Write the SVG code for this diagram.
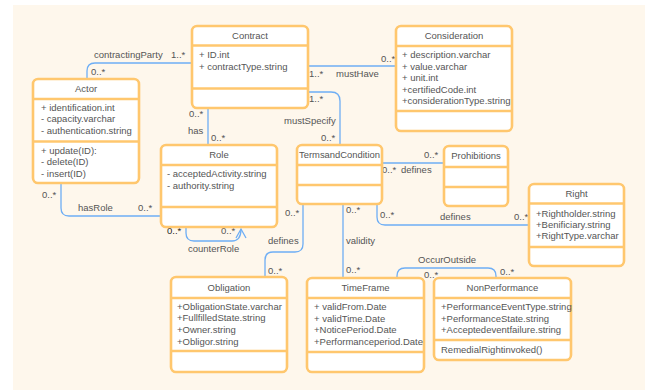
<svg xmlns="http://www.w3.org/2000/svg" width="647" height="390" viewBox="0 0 647 390">
<style>
.box{fill:#ffffff;stroke:#ffc76e;stroke-width:2.6}
.sep{stroke:#ffc76e;stroke-width:2.6}
.t{font-family:"Liberation Sans",Arial,sans-serif;font-size:9.5px;fill:#555555}
.c{text-anchor:middle}
.con{fill:none;stroke:#6eaef5;stroke-width:1.3}
</style>
<defs>
<marker id="open" viewBox="0 0 12 12" refX="10" refY="6" markerWidth="12" markerHeight="12" markerUnits="userSpaceOnUse" orient="auto">
<path d="M1,1 L10,6 L1,11" fill="none" stroke="#6eaef5" stroke-width="1.3"/>
</marker>
</defs>
<rect x="13" y="5" width="632" height="385" fill="#fef7ec"/>
<g id="connectors">
<path class="con" d="M87,79 V71 Q87,63 95,63 H192"/>
<path class="con" d="M208,108 V145"/>
<path class="con" d="M308,66 H396"/>
<path class="con" d="M308,92 H331 Q340,92 340,101 V145"/>
<path class="con" d="M61,183 V208 Q61,216 69,216 H161"/>
<path class="con" d="M186,227 V233 Q186,241 194,241 H232 Q241,241 241,229" marker-end="url(#open)"/>
<path class="con" d="M303,204 V244 Q303,252 295,252 H273 Q265,252 265,260 V277"/>
<path class="con" d="M382,163 H444"/>
<path class="con" d="M377,204 V217 Q377,225 385,225 H529"/>
<path class="con" d="M343,204 V278"/>
<path class="con" d="M397,278 V276 Q397,268 405,268 H488 Q496,268 496,276 V278"/>
<text class="t" x="94" y="57.5">contractingParty</text>
<text class="t" x="171" y="57.5">1..*</text>
<text class="t" x="91" y="75">0..*</text>
<text class="t" x="189" y="116.5">0..*</text>
<text class="t" x="188" y="134">has</text>
<text class="t" x="211" y="140.5">0..*</text>
<text class="t" x="309" y="76.5">1..*</text>
<text class="t" x="336" y="76.5">mustHave</text>
<text class="t" x="381" y="61.5">0..*</text>
<text class="t" x="309" y="101.5">1..*</text>
<text class="t" x="284" y="123.5">mustSpecify</text>
<text class="t" x="321" y="140.5">0..*</text>
<text class="t" x="42" y="197.5">0..*</text>
<text class="t" x="78" y="211">hasRole</text>
<text class="t" x="138" y="211">0..*</text>
<text class="t" x="167" y="234" style="fill:#222222">0..*</text>
<text class="t" x="221" y="234">0..*</text>
<text class="t" x="188" y="252">counterRole</text>
<text class="t" x="285" y="216">0..*</text>
<text class="t" x="268" y="243.5">defines</text>
<text class="t" x="268" y="274">0..*</text>
<text class="t" x="382" y="172.5">0..*</text>
<text class="t" x="401" y="172.5">defines</text>
<text class="t" x="424" y="157.5">0..*</text>
<text class="t" x="380" y="218">0..*</text>
<text class="t" x="440" y="219.5">defines</text>
<text class="t" x="514" y="219.5">0..*</text>
<text class="t" x="346" y="212.5">0..*</text>
<text class="t" x="346" y="243.5">validity</text>
<text class="t" x="346" y="272.5">0..*</text>
<text class="t" x="418" y="262.5">OccurOutside</text>
<text class="t" x="424" y="277.5">0..*</text>
<text class="t" x="500" y="274.5">0..*</text>
</g>
<g id="Contract">
<rect class="box" x="192" y="26" width="116" height="82" rx="5"/>
<line class="sep" x1="192" y1="45.5" x2="308" y2="45.5"/>
<line class="sep" x1="192" y1="88.5" x2="308" y2="88.5"/>
<text class="t c" x="250" y="38.5">Contract</text>
<text class="t" x="199" y="57.5">+ ID.int</text>
<text class="t" x="199" y="69.5">+ contractType.string</text>
</g>
<g id="Consideration">
<rect class="box" x="396" y="26" width="116" height="105" rx="5"/>
<line class="sep" x1="396" y1="46" x2="512" y2="46"/>
<line class="sep" x1="396" y1="111" x2="512" y2="111"/>
<text class="t c" x="454" y="38.5">Consideration</text>
<text class="t" x="402" y="57.5">+ description.varchar</text>
<text class="t" x="402" y="69.5">+ value.varchar</text>
<text class="t" x="402" y="81">+ unit.int</text>
<text class="t" x="402" y="92.5">+certifiedCode.int</text>
<text class="t" x="402" y="104">+considerationType.string</text>
</g>
<g id="Actor">
<rect class="box" x="33" y="79" width="106" height="104" rx="5"/>
<line class="sep" x1="33" y1="99" x2="139" y2="99"/>
<line class="sep" x1="33" y1="141.5" x2="139" y2="141.5"/>
<text class="t c" x="86" y="91.5">Actor</text>
<text class="t" x="41" y="110.5">+ identification.int</text>
<text class="t" x="41" y="122">- capacity.varchar</text>
<text class="t" x="41" y="133.5">- authentication.string</text>
<text class="t" x="41" y="153.5">+ update(ID):</text>
<text class="t" x="41" y="165">- delete(ID)</text>
<text class="t" x="41" y="176.5">- insert(ID)</text>
</g>
<g id="Role">
<rect class="box" x="161" y="145" width="116" height="82" rx="5"/>
<line class="sep" x1="161" y1="165" x2="277" y2="165"/>
<line class="sep" x1="161" y1="207" x2="277" y2="207"/>
<text class="t c" x="219" y="157.5">Role</text>
<text class="t" x="167" y="177">- acceptedActivity.string</text>
<text class="t" x="167" y="188.5">- authority.string</text>
</g>
<g id="TermsandCondition">
<rect class="box" x="297" y="145" width="85" height="59" rx="5"/>
<line class="sep" x1="297" y1="165" x2="382" y2="165"/>
<line class="sep" x1="297" y1="185" x2="382" y2="185"/>
<text class="t c" x="339.5" y="157.5" textLength="81" lengthAdjust="spacingAndGlyphs">TermsandCondition</text>
</g>
<g id="Prohibitions">
<rect class="box" x="444" y="146" width="64" height="60" rx="5"/>
<line class="sep" x1="444" y1="167" x2="508" y2="167"/>
<line class="sep" x1="444" y1="187" x2="508" y2="187"/>
<text class="t c" x="476" y="158.5">Prohibitions</text>
</g>
<g id="Right">
<rect class="box" x="529" y="184" width="95" height="82" rx="5"/>
<line class="sep" x1="529" y1="203.5" x2="624" y2="203.5"/>
<line class="sep" x1="529" y1="247" x2="624" y2="247"/>
<text class="t c" x="576.5" y="196.5">Right</text>
<text class="t" x="536" y="216.5">+Rightholder.string</text>
<text class="t" x="536" y="227.5">+Benificiary.string</text>
<text class="t" x="536" y="238.5">+RightType.varchar</text>
</g>
<g id="Obligation">
<rect class="box" x="171" y="277" width="116" height="95" rx="5"/>
<line class="sep" x1="171" y1="298" x2="287" y2="298"/>
<line class="sep" x1="171" y1="351" x2="287" y2="351"/>
<text class="t c" x="229" y="290.5">Obligation</text>
<text class="t" x="177" y="309.5">+ObligationState.varchar</text>
<text class="t" x="177" y="321">+FullfilledState.string</text>
<text class="t" x="177" y="333">+Owner.string</text>
<text class="t" x="177" y="344.5">+Obligor.string</text>
</g>
<g id="TimeFrame">
<rect class="box" x="307" y="278" width="117" height="94" rx="5"/>
<line class="sep" x1="307" y1="298" x2="424" y2="298"/>
<line class="sep" x1="307" y1="352" x2="424" y2="352"/>
<text class="t c" x="365.5" y="290.5">TimeFrame</text>
<text class="t" x="314" y="310">+ validFrom.Date</text>
<text class="t" x="314" y="321.5">+ validTime.Date</text>
<text class="t" x="314" y="333">+NoticePeriod.Date</text>
<text class="t" x="314" y="344.5">+Performanceperiod.Date</text>
</g>
<g id="NonPerformance">
<rect class="box" x="434" y="278" width="137" height="82" rx="5"/>
<line class="sep" x1="434" y1="298" x2="571" y2="298"/>
<line class="sep" x1="434" y1="340" x2="571" y2="340"/>
<text class="t c" x="502.5" y="290.5">NonPerformance</text>
<text class="t" x="441" y="310">+PerformanceEventType.string</text>
<text class="t" x="441" y="321.5">+PerformanceState.string</text>
<text class="t" x="441" y="333">+Acceptedeventfailure.string</text>
<text class="t" x="441" y="352.5">RemedialRightinvoked()</text>
</g>
</svg>
